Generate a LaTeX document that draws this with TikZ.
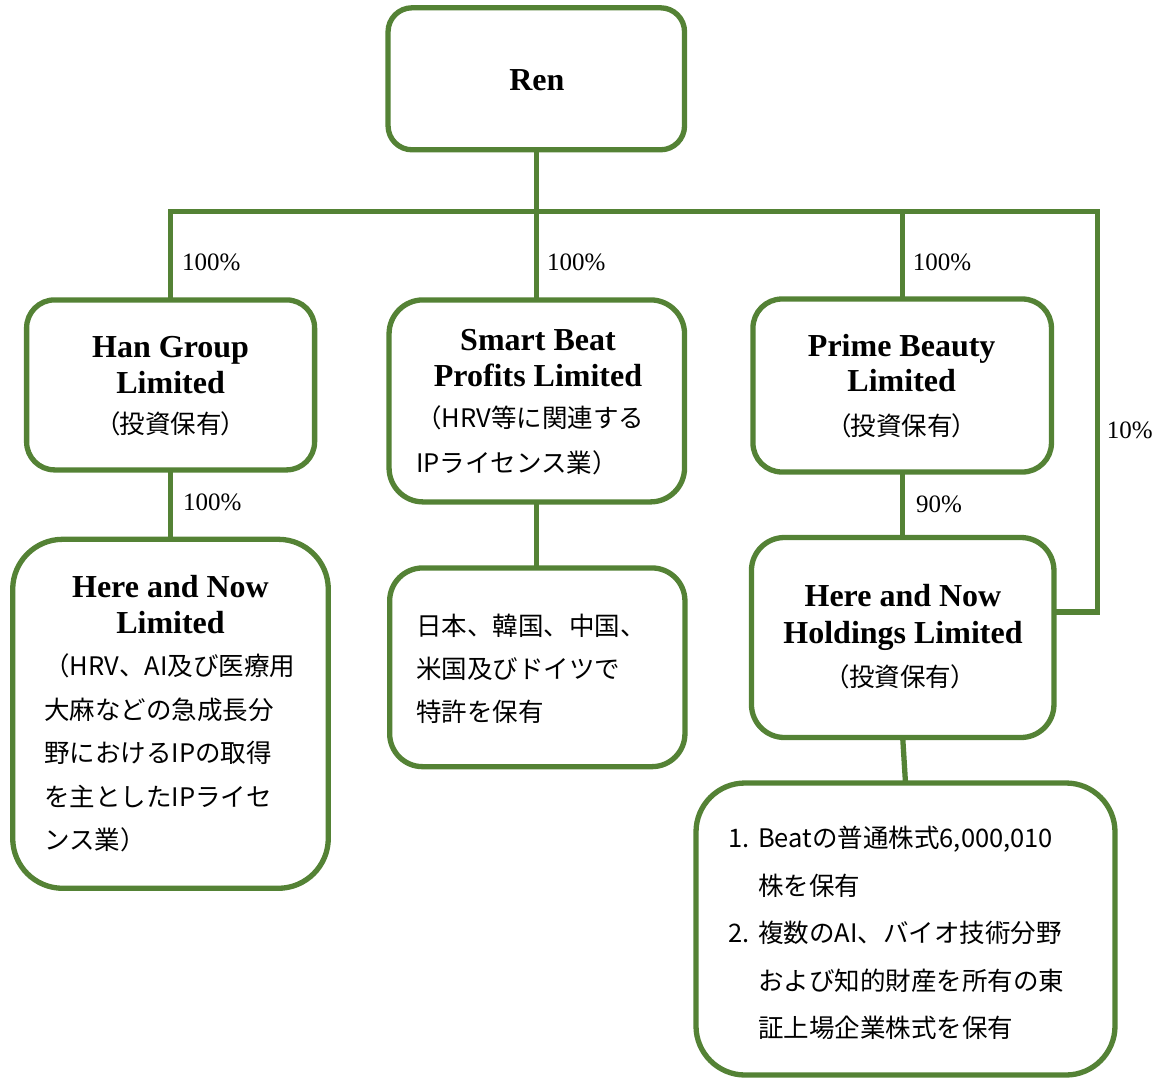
\documentclass[tikz,border=0pt]{standalone}
\usepackage{fontspec}
\newfontfamily\jp{Noto Sans CJK JP}
\newfontfamily\jpp{Noto Sans CJK JP}[RawFeature=+palt]
\newfontfamily\ser{Liberation Serif}
\definecolor{grn}{RGB}{84,130,53}
\begin{document}
\begin{tikzpicture}[x=1pt,y=-1pt,
  box/.style={draw=grn, line width=5.3pt, inner sep=0pt, outer sep=0pt, fill=white},
  conn/.style={draw=grn, line width=5.3pt},
  ttl/.style={font=\ser\bfseries\fontsize{32}{37}\selectfont, inner sep=0pt, text height=21pt, text depth=0pt, anchor=center},
  jl/.style={font=\jp\fontsize{25.5}{30}\selectfont, inner sep=0pt, anchor=west, text height=22.4pt, text depth=3.1pt},
  jc/.style={font=\jpp\fontsize{25.5}{30}\selectfont, inner sep=0pt, anchor=center, text height=22.4pt, text depth=3.1pt},
  pct/.style={font=\ser\fontsize{25}{30}\selectfont, inner sep=0pt, anchor=west, text height=16.5pt, text depth=0pt}]
\useasboundingbox (0,0) rectangle (1162,1079);

% boxes
\node[box, minimum width=296.5pt, minimum height=142pt, rounded corners=24pt] (ren) at (536.3,78.8) {};
\node[box, minimum width=288pt, minimum height=170pt, rounded corners=28pt] (han) at (170.6,384.9) {};
\node[box, minimum width=295.5pt, minimum height=202pt, rounded corners=34pt] (smart) at (536.8,400.9) {};
\node[box, minimum width=298.5pt, minimum height=173pt, rounded corners=29pt] (prime) at (902.2,385.5) {};
\node[box, minimum width=315.6pt, minimum height=349pt, rounded corners=50pt] (hnl) at (170.5,713.8) {};
\node[box, minimum width=295.3pt, minimum height=198.7pt, rounded corners=33pt] (pat) at (537.3,667.3) {};
\node[box, minimum width=302.5pt, minimum height=200pt, rounded corners=33pt] (hnh) at (902.7,637.5) {};
\node[box, minimum width=419pt, minimum height=292pt, rounded corners=49pt] (bot) at (905.5,929) {};

% connectors
\coordinate (jr) at (537.8,211.5);
\coordinate (rt) at (1097.5,211.5);
\coordinate (rb) at (1097.5,612);
\draw[conn] (ren.south) -- (ren.south |- jr);
\draw[conn] (han.north) -- (han.north |- jr) -- (prime.north |- jr);
\draw[conn] (smart.north) -- (smart.north |- jr);
\draw[conn] (prime.north) -- (prime.north |- jr) -- (rt) -- (rb) -- (rb -| hnh.east);
\draw[conn] (han.south) -- (han.south |- hnl.north);
\draw[conn] (smart.south) -- (smart.south |- pat.north);
\draw[conn] (prime.south) -- (prime.south |- hnh.north);
\draw[conn] (hnh.south) -- (bot.north);

% percentages
\node[pct] (p1) at (182,262.5) {100\%};
\node[pct] (p2) at (547,262.5) {100\%};
\node[pct] (p3) at (912.7,262.5) {100\%};
\node[pct] (p4) at (183,502.5) {100\%};
\node[pct] (p5) at (916,504) {90\%};
\node[pct] (p6) at (1106.7,430.5) {10\%};

% Ren
\node[ttl] (rent) at (536.8,79.5) {Ren};
% Han
\node[ttl] (hant1) at (170.6,346.7) {Han Group};
\node[ttl] (hant2) at (170.6,383) {Limited};
\node[jc] (hant3) at (170.6,424) {（投資保有）};
% Smart
\node[ttl] (smt1) at (538,340) {Smart Beat};
\node[ttl] (smt2) at (538,376) {Profits Limited};
\node[jl] (smt3) at (416,417.5) {（HRV等に関連する};
\node[jl] (smt4) at (416,462.5) {IPライセンス業）};
% Prime
\node[ttl] (prt1) at (901.7,346) {Prime Beauty};
\node[ttl] (prt2) at (901.7,381) {Limited};
\node[jc] (prt3) at (901.7,426) {（投資保有）};
% Here and Now Limited
\node[ttl] (hlt1) at (170.5,586.7) {Here and Now};
\node[ttl] (hlt2) at (170.5,623) {Limited};
\node[jl] (hlt3) at (44,666) {（HRV、AI及び医療用};
\node[jl] (hlt4) at (44,709.5) {大麻などの急成長分};
\node[jl] (hlt5) at (44,753) {野におけるIPの取得};
\node[jl] (hlt6) at (44,796.5) {を主としたIPライセ};
\node[jl] (hlt7) at (44,840) {ンス業）};
% patents
\node[jl] (pt1) at (416,626) {日本、韓国、中国、};
\node[jl] (pt2) at (416,669) {米国及びドイツで};
\node[jl] (pt3) at (416,712) {特許を保有};
% Holdings
\node[ttl] (hht1) at (903,596) {Here and Now};
\node[ttl] (hht2) at (903,632.5) {Holdings Limited};
\node[jc] (hht3) at (900,676.5) {（投資保有）};
% bottom list
\node[jl] (bn1) at (728,838) {1.};
\node[jl] (bt1) at (758,838) {Beatの普通株式6,000,010};
\node[jl] (bt2) at (758,885.5) {株を保有};
\node[jl] (bn2) at (728,933) {2.};
\node[jl] (bt3) at (758,933) {複数のAI、バイオ技術分野};
\node[jl] (bt4) at (758,980.5) {および知的財産を所有の東};
\node[jl] (bt5) at (758,1028) {証上場企業株式を保有};
\end{tikzpicture}
\end{document}
